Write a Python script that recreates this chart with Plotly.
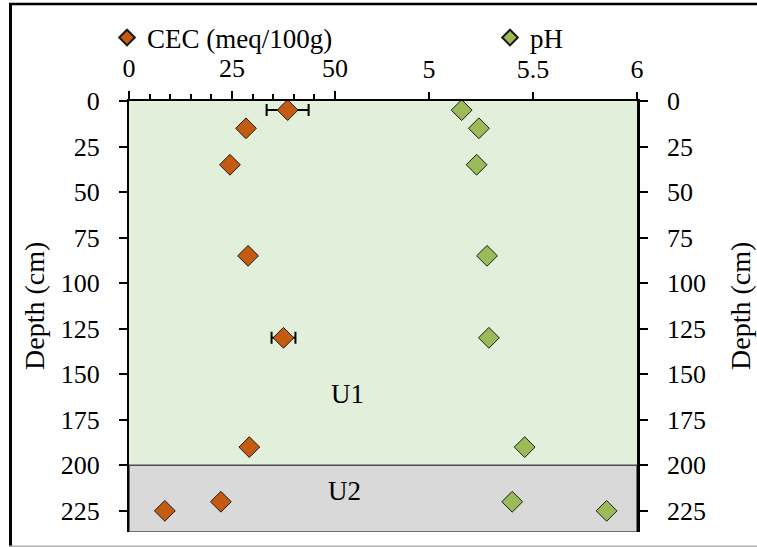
import plotly.graph_objects as go

# Soil profile measurements
depth_cm = [5, 15, 35, 85, 130, 190, 220, 225]
cec = [38.5, 28.4, 24.5, 28.9, 37.5, 29.2, 22.3, 8.7]
cec_err = [5.1, None, None, None, 2.9, None, None, None]
ph = [5.157, 5.240, 5.229, 5.279, 5.288, 5.460, 5.400, 5.854]

cec_ticks = [0, 25, 50]
cec_minor = [5, 10, 15, 20, 30, 35, 40, 45]
ph_ticks = [5, 5.5, 6]
depth_ticks = [0, 25, 50, 75, 100, 125, 150, 175, 200, 225]
unit_break = 200

W, H = 757, 547
ML, MR, MT, MB = 129, 120, 101, 15
PW, PH = W - ML - MR, H - MT - MB

FONT = "Liberation Serif, Times New Roman, serif"
CEC_COLOR = "#C55A11"
PH_COLOR = "#9BBB59"
DEPTH_MAX = 236.6


def px_x(p):
    return (p - ML) / PW


def px_y(p):
    return (H - MB - p) / PH


fig = go.Figure()

fig.add_trace(go.Scatter(
    x=cec, y=depth_cm, mode="markers", name="CEC (meq/100g)",
    xaxis="x", yaxis="y", legend="legend", showlegend=True,
    marker=dict(symbol="diamond", size=16, color=CEC_COLOR,
                line=dict(color="#1a1a1a", width=1)),
    error_x=dict(type="data", array=cec_err, color="black",
                 thickness=2, width=6, visible=True),
))

fig.add_trace(go.Scatter(
    x=ph, y=depth_cm, mode="markers", name="pH",
    xaxis="x2", yaxis="y2", legend="legend2", showlegend=True,
    marker=dict(symbol="diamond", size=16, color=PH_COLOR,
                line=dict(color="#1a1a1a", width=1)),
))

tick_font = dict(family=FONT, size=26, color="black")
title_font = dict(family=FONT, size=28, color="black")
legend_font = dict(family=FONT, size=27, color="black")

fig.update_layout(
    width=W, height=H,
    margin=dict(l=ML, r=MR, t=MT, b=MB, pad=0),
    paper_bgcolor="white", plot_bgcolor="white",
    font=dict(family=FONT, color="black"),
    showlegend=True,
    xaxis=dict(
        side="top", range=[0, PW / 4.12], tickmode="array", tickvals=cec_ticks,
        ticks="outside", ticklen=8, tickwidth=1.5, tickcolor="black",
        minor=dict(tickmode="array", tickvals=cec_minor, ticks="outside",
                   ticklen=5, tickwidth=1.5, tickcolor="black"),
        showline=True, linecolor="black", linewidth=2,
        showgrid=False, zeroline=False, tickfont=tick_font,
        ticklabelstandoff=4,
    ),
    xaxis2=dict(
        side="top", overlaying="x", anchor="y",
        range=[6 - PW / 208.0, 6.0], tickmode="array", tickvals=ph_ticks,
        ticktext=["5", "5.5", "6"],
        ticks="outside", ticklen=8, tickwidth=1.5, tickcolor="black",
        showline=False, showgrid=False, zeroline=False, tickfont=tick_font,
        ticklabelstandoff=4,
    ),
    yaxis=dict(
        range=[DEPTH_MAX, 0], tickmode="array", tickvals=depth_ticks,
        ticks="outside", ticklen=8, tickwidth=1.5, tickcolor="black",
        showline=True, linecolor="black", linewidth=2,
        showgrid=False, zeroline=False, tickfont=tick_font,
        ticklabelstandoff=14,
    ),
    yaxis2=dict(
        side="right", overlaying="y", anchor="x",
        range=[DEPTH_MAX, 0], tickmode="array", tickvals=depth_ticks,
        ticks="outside", ticklen=8, tickwidth=1.5, tickcolor="black",
        showline=True, linecolor="black", linewidth=2.5,
        showgrid=False, zeroline=False, tickfont=tick_font,
        ticklabelstandoff=14,
    ),
    legend=dict(
        visible=True,
        x=px_x(107), y=px_y(38), xanchor="left", yanchor="middle",
        orientation="h", font=legend_font,
        itemsizing="constant", bgcolor="rgba(0,0,0,0)",
    ),
    legend2=dict(
        visible=True,
        x=px_x(490), y=px_y(38), xanchor="left", yanchor="middle",
        orientation="h", font=legend_font,
        itemsizing="constant", bgcolor="rgba(0,0,0,0)",
    ),
)

# Axis titles
fig.add_annotation(x=px_x(34), y=px_y(306), xref="paper", yref="paper",
                   text="Depth (cm)", textangle=-90, showarrow=False,
                   font=title_font, xanchor="center", yanchor="middle")
fig.add_annotation(x=px_x(740), y=px_y(306), xref="paper", yref="paper",
                   text="Depth (cm)", textangle=-90, showarrow=False,
                   font=title_font, xanchor="center", yanchor="middle")

# Soil units as background bands
fig.add_shape(type="rect", xref="x domain", yref="y", x0=0, x1=1,
              y0=0, y1=unit_break, fillcolor="#E2EFDA",
              line=dict(width=0), layer="below")
fig.add_shape(type="rect", xref="x domain", yref="y", x0=0, x1=1,
              y0=unit_break, y1=DEPTH_MAX, fillcolor="#D9D9D9",
              line=dict(color="#4d4d4d", width=1.5), layer="below")

fig.add_annotation(x=53, y=161, xref="x", yref="y", text="U1",
                   showarrow=False, font=dict(family=FONT, size=27, color="black"))
fig.add_annotation(x=52.4, y=214, xref="x", yref="y", text="U2",
                   showarrow=False, font=dict(family=FONT, size=27, color="black"))

# Outer frame
fig.add_shape(type="line", xref="paper", yref="paper",
              x0=px_x(9), x1=px_x(W), y0=px_y(4), y1=px_y(4),
              line=dict(color="black", width=2.5))
fig.add_shape(type="line", xref="paper", yref="paper",
              x0=px_x(10.5), x1=px_x(10.5), y0=px_y(3), y1=px_y(546.5),
              line=dict(color="black", width=3))
fig.add_shape(type="line", xref="paper", yref="paper",
              x0=px_x(9), x1=px_x(W), y0=px_y(546.3), y1=px_y(546.3),
              line=dict(color="#b0b0b0", width=1.5))

fig.write_html("out.html")
